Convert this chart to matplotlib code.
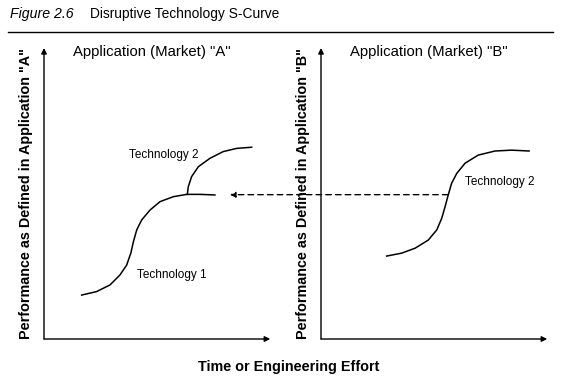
import matplotlib
matplotlib.use("Agg")
import matplotlib.pyplot as plt

plt.rcParams['font.family'] = ['Liberation Sans', 'DejaVu Sans']

# curve shapes (arbitrary units 0-10 on both axes)
tech1_a_x = [1.68, 2.35, 2.95, 3.39, 3.69, 3.88, 3.99, 4.14, 4.36, 4.73, 5.18, 5.77, 6.37, 6.96, 7.63]
tech1_a_y = [1.51, 1.63, 1.86, 2.20, 2.54, 2.96, 3.34, 3.75, 4.09, 4.43, 4.72, 4.89, 4.97, 4.97, 4.95]
tech2_a_x = [6.40, 6.44, 6.59, 6.89, 7.41, 8.00, 8.60, 9.27]
tech2_a_y = [4.97, 5.23, 5.58, 5.92, 6.21, 6.44, 6.55, 6.59]
tech2_b_x = [2.93, 3.60, 4.20, 4.79, 5.17, 5.39, 5.54, 5.68, 5.83, 6.06, 6.43, 7.02, 7.77, 8.51, 9.29]
tech2_b_y = [2.85, 2.95, 3.12, 3.40, 3.75, 4.15, 4.55, 4.95, 5.35, 5.69, 6.04, 6.32, 6.46, 6.49, 6.46]
threshold = 4.96

W, H = 564, 384
fig = plt.figure(figsize=(W / 100, H / 100), dpi=100)

fig.text(10 / W, 1 - 14 / H, 'Figure 2.6', style='italic', fontsize=10.2, va='center')
fig.text(90 / W, 1 - 14 / H, 'Disruptive Technology S-Curve', fontsize=9.9, va='center')
fig.add_artist(plt.Line2D([8 / W, 553 / W], [1 - 32 / H, 1 - 32 / H], color='black', lw=1))


def make_panel(left_px, letter):
    ax = fig.add_axes([left_px / W, (H - 339) / H, 224 / W, 291 / H])
    ax.set_xlim(0, 10)
    ax.set_ylim(0, 10)
    ax.axis('off')
    ax.annotate('', xy=(0, 1.0), xytext=(0, 0), xycoords='axes fraction',
                arrowprops=dict(arrowstyle='-|>', color='black', lw=1, mutation_scale=8,
                                shrinkA=0, shrinkB=0))
    ax.annotate('', xy=(1.01, 0), xytext=(0, 0), xycoords='axes fraction',
                arrowprops=dict(arrowstyle='-|>', color='black', lw=1, mutation_scale=8,
                                shrinkA=0, shrinkB=0))
    ax.text(0.13, 0.985, 'Application (Market) "%s"' % letter, transform=ax.transAxes,
            fontsize=10.7, va='center')
    ax.text(-0.08, 0.5, 'Performance as Defined in Application "%s"' % letter,
            transform=ax.transAxes, rotation=90, fontsize=10.4, fontweight='bold',
            ha='center', va='center')
    return ax


ax_a = make_panel(44, 'A')
ax_b = make_panel(321, 'B')

ax_a.plot(tech1_a_x, tech1_a_y, color='black', lw=1.1)
ax_a.plot(tech2_a_x, tech2_a_y, color='black', lw=1.1)
ax_b.plot(tech2_b_x, tech2_b_y, color='black', lw=1.1)

ax_a.text(5.36, 6.32, 'Technology 2', fontsize=8.5, ha='center', va='center')
ax_a.text(5.69, 2.20, 'Technology 1', fontsize=8.5, ha='center', va='center')
ax_b.text(7.99, 5.41, 'Technology 2', fontsize=8.5, ha='center', va='center')

ax_a.annotate('', xy=(8.30, threshold), xycoords=ax_a.transData,
              xytext=(5.67, threshold), textcoords=ax_b.transData,
              arrowprops=dict(arrowstyle='-|>', color='black', lw=1, linestyle=(0, (4, 3)),
                              mutation_scale=8, shrinkA=0, shrinkB=0))

fig.text(289 / W, 1 - 367 / H, 'Time or Engineering Effort', fontsize=10.4, fontweight='bold',
         ha='center', va='center')

fig.savefig('out.png', dpi=100)
